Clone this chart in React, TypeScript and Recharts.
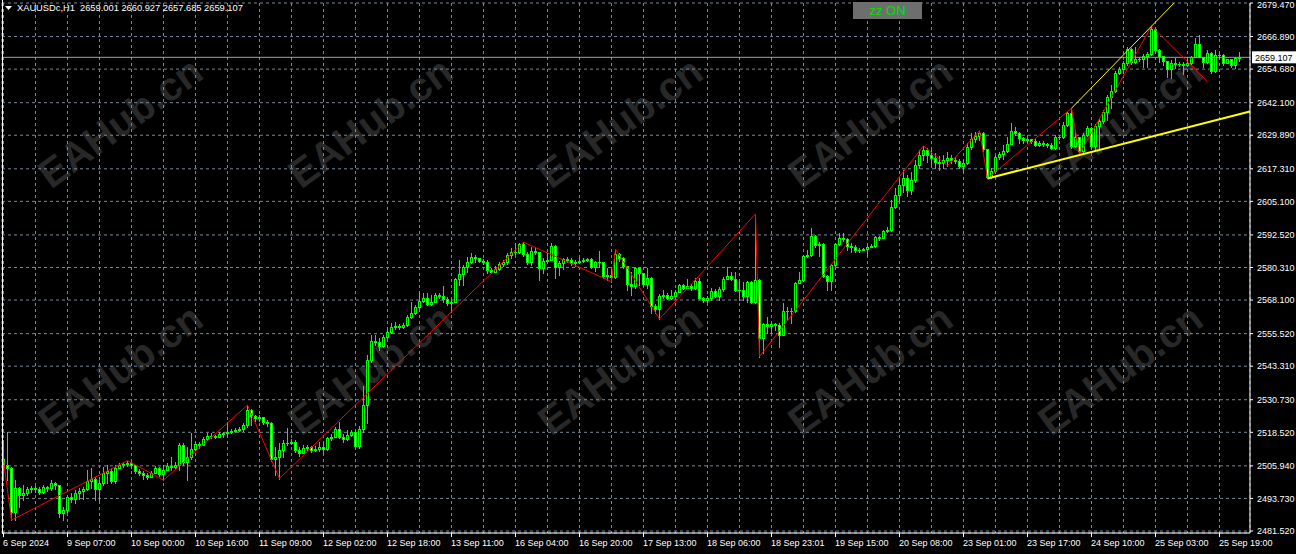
import React from "react";
import {
  ComposedChart,
  Bar,
  Line,
  XAxis,
  YAxis,
  CartesianGrid,
  ReferenceLine,
} from "recharts";

// XAUUSDc H1, bars from 6 Sep 2024 15:00 onwards
const firstOpen = 2508.7;

const highs = [
  2515.6, 2518.7, 2505.6, 2500.6, 2497.9, 2498.7, 2497.9, 2498.4, 2498.4, 2497.9,
  2498.7, 2498.4, 2500.6, 2500.0, 2498.7, 2490.6, 2495.0, 2495.6, 2496.9, 2497.5,
  2497.9, 2504.4, 2505.0, 2501.9, 2500.6, 2505.6, 2506.2, 2505.0, 2506.2, 2507.1,
  2507.5, 2507.9, 2507.5, 2506.2, 2504.6, 2504.1, 2503.4, 2504.1, 2505.9, 2505.6,
  2506.2, 2506.9, 2509.4, 2507.5, 2514.6, 2514.4, 2513.1, 2518.1, 2515.0, 2515.0,
  2516.9, 2518.1, 2518.1, 2517.5, 2518.7, 2518.7, 2522.5, 2519.6, 2520.0, 2520.6,
  2521.9, 2528.7, 2527.1, 2525.0, 2525.0, 2523.7, 2523.1, 2522.5, 2513.1, 2514.4,
  2515.6, 2520.0, 2515.9, 2515.6, 2513.1, 2513.8, 2513.8, 2513.2, 2513.2, 2515.0,
  2514.4, 2516.9, 2517.9, 2520.4, 2522.5, 2517.9, 2519.4, 2519.4, 2519.2, 2520.7,
  2535.7, 2547.5, 2555.0, 2555.0, 2553.8, 2555.0, 2556.9, 2559.4, 2560.0, 2559.2,
  2559.4, 2562.5, 2567.5, 2566.3, 2570.7, 2570.7, 2570.7, 2570.0, 2570.7, 2570.7,
  2573.2, 2569.4, 2568.2, 2576.3, 2583.2, 2581.3, 2584.4, 2585.7, 2585.0, 2583.8,
  2583.4, 2583.2, 2580.0, 2580.7, 2582.2, 2583.2, 2585.7, 2587.5, 2589.4, 2589.4,
  2589.8, 2586.2, 2588.1, 2588.1, 2586.2, 2583.7, 2585.6, 2589.4, 2588.7, 2582.7,
  2584.0, 2584.4, 2583.7, 2583.1, 2583.7, 2583.7, 2584.0, 2583.7, 2582.7, 2586.5,
  2581.9, 2580.0, 2579.4, 2587.2, 2585.6, 2584.4, 2581.0, 2578.7, 2580.6, 2580.6,
  2578.1, 2580.0, 2576.9, 2566.5, 2570.2, 2571.9, 2570.6, 2571.9, 2571.9, 2574.2,
  2574.0, 2576.0, 2574.0, 2576.5, 2576.5, 2569.4, 2569.7, 2572.5, 2572.1, 2572.9,
  2576.6, 2580.6, 2578.7, 2578.7, 2575.0, 2575.0, 2575.4, 2575.1, 2600.4, 2575.9,
  2559.6, 2561.9, 2560.0, 2559.6, 2559.4, 2566.9, 2565.6, 2565.0, 2575.0, 2578.7,
  2585.0, 2586.9, 2595.0, 2592.5, 2590.0, 2589.6, 2577.5, 2581.6, 2589.4, 2593.1,
  2593.1, 2591.2, 2589.4, 2588.6, 2587.7, 2587.7, 2588.6, 2589.0, 2592.1, 2592.1,
  2594.4, 2595.6, 2605.6, 2610.1, 2613.9, 2616.9, 2615.0, 2616.1, 2620.6, 2624.4,
  2625.9, 2625.1, 2624.4, 2623.2, 2622.1, 2622.5, 2623.6, 2622.5, 2621.8, 2620.8,
  2620.6, 2626.8, 2630.6, 2631.2, 2631.6, 2631.2, 2624.6, 2617.5, 2622.1, 2623.7,
  2626.2, 2629.3, 2634.3, 2633.1, 2631.2, 2629.1, 2629.3, 2628.3, 2628.3, 2627.6,
  2627.6, 2627.1, 2627.1, 2629.9, 2629.8, 2635.0, 2638.7, 2640.0, 2631.8, 2629.3,
  2630.8, 2633.3, 2633.1, 2634.1, 2636.1, 2639.3, 2645.0, 2648.7, 2654.1, 2655.6,
  2657.8, 2663.1, 2662.5, 2663.1, 2659.3, 2660.3, 2661.1, 2670.8, 2670.1, 2662.1,
  2659.6, 2657.8, 2658.1, 2658.7, 2657.3, 2657.3, 2658.7, 2659.6, 2666.2, 2667.5,
  2659.3, 2661.8, 2661.1, 2661.8, 2661.1, 2660.3, 2658.6, 2658.6, 2659.1, 2660.927,
];

const lows = [
  2500.6, 2500.6, 2485.6, 2485.6, 2490.6, 2493.1, 2495.0, 2496.2, 2496.2, 2495.4,
  2495.9, 2496.6, 2496.9, 2497.1, 2486.9, 2485.6, 2488.7, 2492.5, 2492.1, 2493.7,
  2493.4, 2496.9, 2497.5, 2493.1, 2493.1, 2498.7, 2499.4, 2499.4, 2499.6, 2505.0,
  2505.6, 2505.9, 2505.2, 2503.4, 2502.5, 2501.2, 2501.2, 2501.6, 2503.1, 2502.1,
  2500.6, 2504.4, 2504.4, 2505.0, 2504.4, 2506.2, 2500.6, 2508.7, 2511.9, 2512.5,
  2513.7, 2515.6, 2516.2, 2516.2, 2516.6, 2516.6, 2516.6, 2518.1, 2518.7, 2519.1,
  2519.1, 2520.6, 2521.2, 2522.9, 2522.9, 2521.6, 2520.9, 2507.9, 2502.5, 2501.2,
  2509.1, 2513.7, 2514.1, 2511.2, 2509.6, 2511.3, 2511.9, 2511.3, 2511.4, 2511.6,
  2510.6, 2511.9, 2515.7, 2516.6, 2516.3, 2515.0, 2515.7, 2517.2, 2512.9, 2512.5,
  2518.8, 2521.9, 2545.0, 2551.3, 2549.4, 2550.4, 2553.8, 2555.7, 2557.2, 2557.2,
  2557.5, 2558.2, 2561.3, 2562.9, 2565.0, 2567.5, 2566.2, 2566.3, 2567.2, 2568.8,
  2567.5, 2566.3, 2563.8, 2567.2, 2573.8, 2573.8, 2578.8, 2581.9, 2582.5, 2582.2,
  2581.7, 2578.2, 2578.2, 2578.8, 2579.4, 2580.9, 2581.7, 2583.7, 2585.2, 2585.6,
  2584.7, 2581.5, 2581.2, 2585.2, 2575.6, 2578.1, 2582.5, 2583.1, 2576.2, 2577.5,
  2579.7, 2582.2, 2581.2, 2581.0, 2582.0, 2582.2, 2582.7, 2580.0, 2579.0, 2580.6,
  2576.2, 2575.6, 2575.0, 2576.5, 2582.7, 2580.2, 2571.9, 2570.0, 2572.7, 2573.7,
  2573.5, 2572.7, 2563.1, 2563.1, 2561.0, 2569.0, 2568.5, 2568.5, 2569.2, 2571.2,
  2572.2, 2572.5, 2571.7, 2572.2, 2568.5, 2567.5, 2567.2, 2568.1, 2569.1, 2568.1,
  2571.6, 2575.9, 2575.6, 2571.6, 2568.1, 2568.1, 2567.5, 2566.9, 2567.1, 2546.9,
  2548.4, 2555.6, 2555.6, 2556.9, 2550.6, 2554.9, 2560.6, 2559.4, 2563.6, 2574.4,
  2575.4, 2584.1, 2584.6, 2588.1, 2584.6, 2576.6, 2571.9, 2571.9, 2580.9, 2588.9,
  2590.4, 2586.9, 2586.2, 2586.2, 2586.1, 2586.9, 2585.0, 2587.9, 2587.9, 2590.6,
  2591.2, 2593.6, 2594.1, 2602.6, 2605.6, 2608.6, 2607.1, 2607.9, 2612.4, 2617.6,
  2620.6, 2619.9, 2618.7, 2617.6, 2616.9, 2617.6, 2618.4, 2619.3, 2619.6, 2617.5,
  2616.2, 2619.1, 2624.8, 2627.5, 2628.1, 2624.1, 2613.7, 2613.7, 2616.6, 2620.8,
  2621.1, 2623.7, 2626.6, 2630.0, 2626.8, 2626.8, 2627.5, 2627.1, 2625.8, 2625.8,
  2625.8, 2625.3, 2624.8, 2624.8, 2628.3, 2628.8, 2633.3, 2625.0, 2625.3, 2622.8,
  2623.7, 2629.6, 2625.0, 2624.3, 2624.3, 2634.6, 2635.6, 2640.0, 2646.2, 2652.8,
  2653.3, 2656.2, 2656.6, 2657.1, 2657.8, 2655.6, 2655.6, 2659.8, 2661.2, 2657.5,
  2656.2, 2651.8, 2651.2, 2655.0, 2655.8, 2652.8, 2655.8, 2656.6, 2659.1, 2659.1,
  2655.6, 2657.1, 2653.3, 2653.5, 2659.3, 2656.2, 2656.8, 2655.6, 2655.0, 2657.685,
];

const closes = [
  2506.2, 2505.0, 2488.7, 2497.5, 2495.0, 2495.9, 2497.1, 2497.5, 2497.4, 2496.2,
  2498.1, 2497.5, 2499.4, 2498.7, 2488.1, 2489.4, 2494.4, 2493.7, 2495.9, 2496.6,
  2497.1, 2500.4, 2501.1, 2497.1, 2499.4, 2503.4, 2504.1, 2500.2, 2505.0, 2506.2,
  2506.6, 2507.1, 2506.1, 2504.1, 2503.4, 2502.4, 2501.9, 2503.4, 2505.0, 2502.9,
  2504.4, 2505.9, 2505.6, 2506.1, 2513.7, 2507.5, 2509.1, 2512.1, 2514.1, 2513.7,
  2515.9, 2517.1, 2517.1, 2516.9, 2517.9, 2518.1, 2518.6, 2518.9, 2519.4, 2519.9,
  2521.2, 2526.9, 2524.6, 2523.7, 2524.1, 2522.5, 2521.9, 2508.4, 2509.1, 2511.9,
  2514.6, 2514.6, 2515.0, 2511.9, 2510.6, 2512.5, 2512.9, 2511.9, 2512.4, 2512.9,
  2512.2, 2516.3, 2516.9, 2519.7, 2516.9, 2515.9, 2517.5, 2518.5, 2513.4, 2519.7,
  2528.8, 2545.7, 2552.9, 2552.5, 2550.7, 2554.2, 2556.0, 2557.9, 2558.4, 2557.9,
  2558.7, 2561.7, 2563.4, 2565.4, 2567.9, 2568.7, 2566.7, 2567.2, 2569.9, 2569.7,
  2568.4, 2566.9, 2567.5, 2575.9, 2577.9, 2580.4, 2582.4, 2584.2, 2583.8, 2582.9,
  2582.5, 2579.4, 2578.8, 2579.7, 2581.7, 2582.2, 2585.0, 2586.2, 2586.2, 2589.0,
  2585.2, 2582.5, 2586.5, 2586.0, 2580.2, 2582.7, 2583.2, 2588.2, 2580.5, 2582.0,
  2583.5, 2583.0, 2581.9, 2582.5, 2582.7, 2583.2, 2583.5, 2580.4, 2582.2, 2582.5,
  2577.1, 2577.5, 2576.7, 2585.4, 2583.7, 2580.9, 2574.0, 2573.2, 2580.0, 2578.1,
  2574.0, 2576.5, 2565.9, 2564.7, 2569.7, 2570.0, 2569.0, 2569.7, 2571.2, 2573.7,
  2572.7, 2573.5, 2572.5, 2575.2, 2569.0, 2568.1, 2568.7, 2571.6, 2569.6, 2572.1,
  2576.1, 2577.1, 2576.1, 2571.9, 2571.9, 2569.6, 2575.0, 2567.5, 2575.6, 2553.7,
  2559.1, 2558.4, 2559.1, 2558.9, 2555.1, 2564.1, 2564.0, 2563.9, 2574.4, 2575.6,
  2584.6, 2584.9, 2592.1, 2588.6, 2589.1, 2577.1, 2575.1, 2581.2, 2589.1, 2591.4,
  2590.9, 2588.4, 2587.9, 2586.9, 2586.9, 2587.4, 2588.1, 2588.5, 2591.9, 2591.4,
  2593.9, 2594.4, 2603.1, 2607.5, 2611.2, 2613.9, 2609.4, 2613.1, 2618.7, 2622.5,
  2624.4, 2622.5, 2621.4, 2619.9, 2619.5, 2620.6, 2621.4, 2620.6, 2620.3, 2618.3,
  2619.3, 2625.3, 2628.3, 2629.6, 2630.8, 2624.6, 2614.1, 2616.6, 2621.6, 2622.8,
  2624.1, 2626.6, 2631.6, 2630.6, 2628.8, 2628.1, 2628.3, 2627.8, 2626.3, 2627.1,
  2626.6, 2626.1, 2625.1, 2629.1, 2629.1, 2633.6, 2638.1, 2625.8, 2629.1, 2624.1,
  2630.0, 2632.5, 2625.8, 2633.3, 2635.3, 2638.6, 2644.1, 2646.6, 2653.3, 2654.6,
  2657.1, 2662.1, 2657.3, 2658.3, 2658.6, 2659.6, 2660.3, 2669.8, 2661.8, 2659.6,
  2657.8, 2654.8, 2657.1, 2656.5, 2656.6, 2656.1, 2657.1, 2659.1, 2664.1, 2659.3,
  2657.5, 2660.6, 2654.1, 2660.1, 2660.1, 2657.1, 2658.3, 2656.2, 2659.0, 2659.107,
];

const timeLabels = [
  "6 Sep 2024", "9 Sep 07:00", "10 Sep 00:00", "10 Sep 16:00", "11 Sep 09:00",
  "12 Sep 02:00", "12 Sep 18:00", "13 Sep 11:00", "16 Sep 04:00", "16 Sep 20:00",
  "17 Sep 13:00", "18 Sep 06:00", "18 Sep 23:01", "19 Sep 15:00", "20 Sep 08:00",
  "23 Sep 01:00", "23 Sep 17:00", "24 Sep 10:00", "25 Sep 03:00", "25 Sep 19:00",
];

const priceTicks = [
  2481.52, 2493.73, 2505.94, 2518.52, 2530.73, 2543.31, 2555.52, 2568.1, 2580.31,
  2592.52, 2605.1, 2617.31, 2629.89, 2642.1, 2654.68, 2666.89, 2679.47,
];

// zigzag pivots
const zzBars = [0, 2, 31, 40, 61, 69, 130, 152, 153, 164, 188, 189, 230, 236, 244, 246, 267, 269, 287, 301];
const zzPrices = [
  2508.1, 2485.6, 2507.9, 2500.6, 2528.7, 2501.2, 2589.8, 2575.0, 2587.2, 2561.0,
  2600.4, 2546.9, 2625.9, 2618.4, 2631.6, 2613.7, 2640.0, 2622.8, 2670.8, 2650.0,
];

// yellow trend lines (bar index, price)
const supportLine = [{ x: 246, y: 2613.7 }, { x: 311.6, y: 2638.8 }];
const channelLine = [{ x: 267, y: 2640.0 }, { x: 292.6, y: 2679.4 }];

const lastPrice = 2659.107;
const symbolTitle = "XAUUSDc,H1  2659.001 2660.927 2657.685 2659.107";

const FONT = "'Liberation Sans', Arial, sans-serif";
const LIME = "#00ff00";

const rows = closes.map((c, i) => {
  const o = i === 0 ? firstOpen : closes[i - 1];
  const h = Math.max(highs[i], o, c);
  const l = Math.min(lows[i], o, c);
  const zi = zzBars.indexOf(i);
  return { i, o, h, l, c, range: [l, h], zz: zi >= 0 ? zzPrices[zi] : null };
});

const gridTicks: number[] = [];
for (let b = 0; b < closes.length; b += 8) gridTicks.push(b);

const Candle = (props: any) => {
  const { x, y, width, height, payload } = props;
  if (x == null || !payload) return null;
  const { o, h, l, c } = payload;
  const top = Math.min(y, y + height);
  const span = Math.abs(height);
  const k = h > l ? span / (h - l) : 0;
  const cx = Math.floor(x + width / 2) + 0.5;
  const yO = top + (h - o) * k;
  const yC = top + (h - c) * k;
  const bTop = Math.round(Math.min(yO, yC)) + 0.5;
  const bBot = Math.round(Math.max(yO, yC)) + 0.5;
  const bull = c >= o;
  return (
    <g>
      <line x1={cx} x2={cx} y1={Math.round(top)} y2={Math.round(top + span) + 1} stroke={LIME} strokeWidth={1} />
      {bBot - bTop < 1 ? (
        <line x1={cx - 1.5} x2={cx + 1.5} y1={bTop} y2={bTop} stroke={LIME} strokeWidth={1} />
      ) : (
        <rect
          x={cx - 1}
          y={bTop}
          width={2}
          height={bBot - bTop}
          fill={bull ? "#000000" : "#ffffff"}
          stroke={LIME}
          strokeWidth={1}
        />
      )}
    </g>
  );
};

const TimeTick = (props: any) => {
  const { x, y, payload } = props;
  const k = payload.value / 16;
  if (!Number.isInteger(k) || !timeLabels[k]) return null;
  const px = Math.floor(x) + 0.5;
  return (
    <g>
      <line x1={px} x2={px} y1={y} y2={y + 4} stroke="#ffffff" />
      <text x={px - 0.5} y={y + 13} fill="#ffffff" fontSize={9} fontFamily={FONT} textAnchor="start">
        {timeLabels[k]}
      </text>
    </g>
  );
};

const PriceTick = (props: any) => {
  const { x, y, payload } = props;
  const ty = Math.max(y, 4.5);
  return (
    <text x={x} y={ty + 3.2} fill="#ffffff" fontSize={9} fontFamily={FONT} textAnchor="start">
      {Number(payload.value).toFixed(3)}
    </text>
  );
};

const PriceTag = (props: any) => {
  const vb = props.viewBox;
  if (!vb) return null;
  const left = vb.x + vb.width + 2;
  return (
    <g>
      <rect x={left} y={vb.y - 6} width={46} height={12} fill="#ffffff" />
      <text x={left + 3} y={vb.y + 3.5} fill="#000000" fontSize={9} fontFamily={FONT}>
        {lastPrice.toFixed(3)}
      </text>
    </g>
  );
};

const marks = [
  [122, 125], [372, 125], [622, 125], [872, 125], [1122, 125],
  [122, 372], [372, 372], [622, 372], [872, 372], [1122, 372],
];

export default function App() {
  return (
    <div style={{ position: "absolute", left: 0, top: 0, width: 1296, height: 554, background: "#000", overflow: "hidden" }}>
      <svg width={1296} height={554} style={{ position: "absolute", left: 0, top: 0 }}>
        {marks.map(([mx, my], n) => (
          <text
            key={n}
            x={mx}
            y={my}
            transform={`rotate(-36 ${mx} ${my})`}
            textAnchor="middle"
            dominantBaseline="middle"
            fontSize={40}
            fontWeight="bold"
            fontFamily={FONT}
            fill="#282828"
          >
            EAHub.cn
          </text>
        ))}
      </svg>
      <div style={{ position: "absolute", left: 0, top: 0 }}>
        <ComposedChart width={1296} height={554} data={rows} margin={{ top: 3, right: 0, bottom: 0, left: 2 }}>
          <CartesianGrid stroke="#778899" strokeDasharray="3 3" />
          <XAxis
            dataKey="i"
            type="number"
            domain={[-0.375, 311.625]}
            allowDataOverflow
            ticks={gridTicks}
            interval={0}
            height={21}
            tickSize={0}
            tickMargin={0}
            tickLine={false}
            axisLine={{ stroke: "#ffffff" }}
            tick={<TimeTick />}
          />
          <YAxis
            orientation="right"
            type="number"
            domain={[2480.77, 2679.47]}
            allowDataOverflow
            ticks={priceTicks}
            interval={0}
            width={46}
            tickSize={3}
            tickMargin={4}
            tickLine={{ stroke: "#ffffff" }}
            axisLine={{ stroke: "#ffffff" }}
            tick={<PriceTick />}
          />
          <ReferenceLine y={lastPrice} stroke="#a0a0a0" strokeWidth={1} label={<PriceTag />} />
          <Bar dataKey="range" barSize={3} shape={<Candle />} isAnimationActive={false} />
          <Line
            dataKey="zz"
            type="linear"
            stroke="#ff0000"
            strokeWidth={1}
            dot={false}
            activeDot={false}
            connectNulls
            isAnimationActive={false}
          />
          <ReferenceLine segment={supportLine} stroke="#ffff00" strokeWidth={2} />
          <ReferenceLine segment={channelLine} stroke="#ffff00" strokeWidth={1} />
        </ComposedChart>
      </div>
      <div style={{ position: "absolute", left: 2, top: 0, width: 1, height: 534, background: "#ffffff" }} />
      <svg width={12} height={12} style={{ position: "absolute", left: 5, top: 4 }}>
        <polygon points="0,2 7,2 3.5,6" fill="#ffffff" />
      </svg>
      <div style={{ position: "absolute", left: 17, top: 2, color: "#ffffff", fontFamily: FONT, fontSize: 9.3, lineHeight: "12px", whiteSpace: "pre" }}>
        {symbolTitle}
      </div>
      <div
        style={{
          position: "absolute", left: 853, top: 2, width: 69, height: 17, background: "#6e6e6e",
          color: "#00e000", fontFamily: FONT, fontSize: 13, lineHeight: "17px", textAlign: "center",
        }}
      >
        zz ON
      </div>
    </div>
  );
}
